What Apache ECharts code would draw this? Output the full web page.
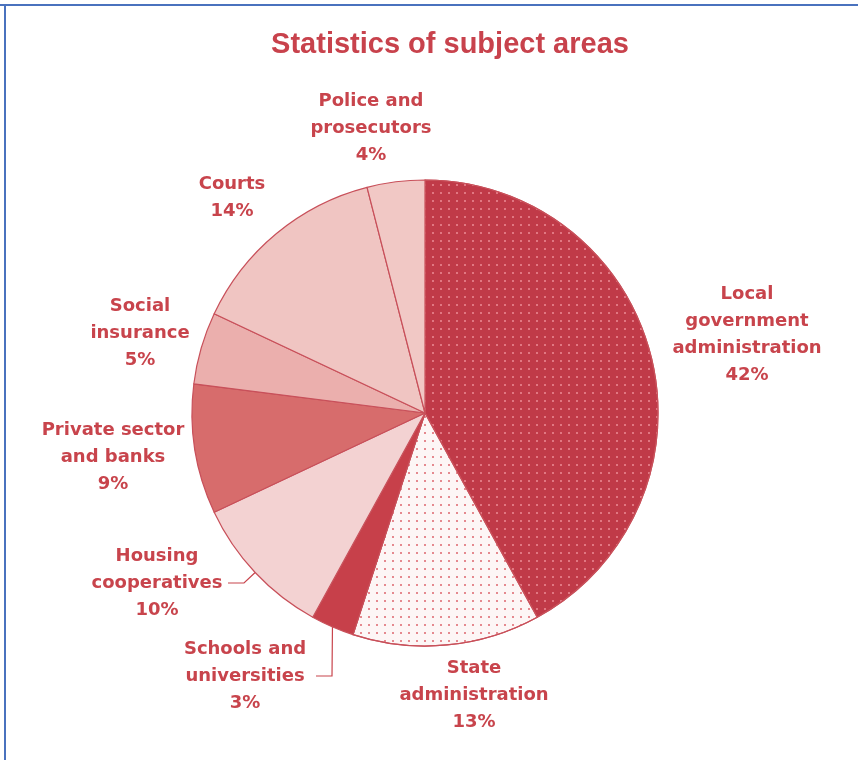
<!DOCTYPE html>
<html>
<head>
<meta charset="utf-8">
<script src="https://cdn.jsdelivr.net/npm/echarts@6/dist/echarts.min.js"></script>
<style>
html,body{margin:0;padding:0;background:#fff;}
#chart{width:858px;height:760px;}
</style>
</head>
<body>
<div id="chart"></div>
<script>
// ---- data ----
const titleText = 'Statistics of subject areas';
const categories = [
  'Local\ngovernment\nadministration',
  'State\nadministration',
  'Schools and\nuniversities',
  'Housing\ncooperatives',
  'Private sector\nand banks',
  'Social\ninsurance',
  'Courts',
  'Police and\nprosecutors'
];
const shares = [42, 13, 3, 10, 9, 5, 14, 4];

// ---- styles ----
const sliceColors = ['#C03A48', '#FDF6F6', '#C7404A', '#F3D2D2', '#D76C6C', '#EBAFAD', '#F0C5C2', '#F1C8C5'];
const textColor = '#C8444C';
const labelPos = [
  [747, 335], [474, 695], [245, 676], [157, 583],
  [113, 457], [140, 333], [232, 198], [371, 128]
];
const showLine = [false, false, true, true, false, false, false, false];
const decals = [
  {symbol: 'rect', symbolSize: 1, color: 'rgba(236,140,150,0.75)', dashArrayX: [1.5, 5.5], dashArrayY: [1.5, 5.5]},
  {symbol: 'rect', symbolSize: 1, color: 'rgba(222,110,118,0.8)', dashArrayX: [1.5, 5.5], dashArrayY: [1.5, 5.5]},
  null, null, null, null, null, null
];

const chart = echarts.init(document.getElementById('chart'), null, {renderer: 'canvas'});

const seriesData = categories.map((c, i) => {
  const item = {
    name: c,
    value: shares[i],
    itemStyle: {color: sliceColors[i]},
    labelLine: {show: showLine[i], length: 10, length2: 16}
  };
  if (decals[i]) item.itemStyle.decal = decals[i];
  return item;
});

const option = {
  backgroundColor: '#ffffff',
  animation: false,
  title: {
    text: titleText,
    left: 450,
    top: 30,
    textAlign: 'center',
    padding: 0,
    textStyle: {
      fontFamily: 'Liberation Sans',
      fontWeight: 'bold',
      fontSize: 29,
      color: '#C8424C'
    }
  },
  graphic: [
    {type: 'line', shape: {x1: 0, y1: 5, x2: 858, y2: 5}, style: {stroke: '#4A72BE', lineWidth: 2}},
    {type: 'line', shape: {x1: 5, y1: 5, x2: 5, y2: 760}, style: {stroke: '#4A72BE', lineWidth: 2}}
  ],
  series: [{
    type: 'pie',
    center: [425, 413],
    radius: 233,
    startAngle: 90,
    clockwise: true,
    avoidLabelOverlap: false,
    itemStyle: {borderColor: '#C8505A', borderWidth: 1.2},
    emphasis: {disabled: true},
    label: {
      show: true,
      position: 'outside',
      formatter: p => p.name.split('\n').map(s => '{t|' + s + '}').join('\n') + '\n{t|' + p.value + '%}',
      rich: {
        t: {
          width: 142,
          align: 'center',
          lineHeight: 27,
          fontSize: 18,
          fontWeight: 'bold',
          fontFamily: 'DejaVu Sans',
          color: textColor
        }
      }
    },
    labelLine: {show: false, length: 10, length2: 16, lineStyle: {color: textColor, width: 1.2}},
    labelLayout: params => ({
      x: labelPos[params.dataIndex][0],
      y: labelPos[params.dataIndex][1],
      align: 'center',
      verticalAlign: 'middle'
    }),
    data: seriesData
  }]
};
chart.setOption(option);
</script>
</body>
</html>
